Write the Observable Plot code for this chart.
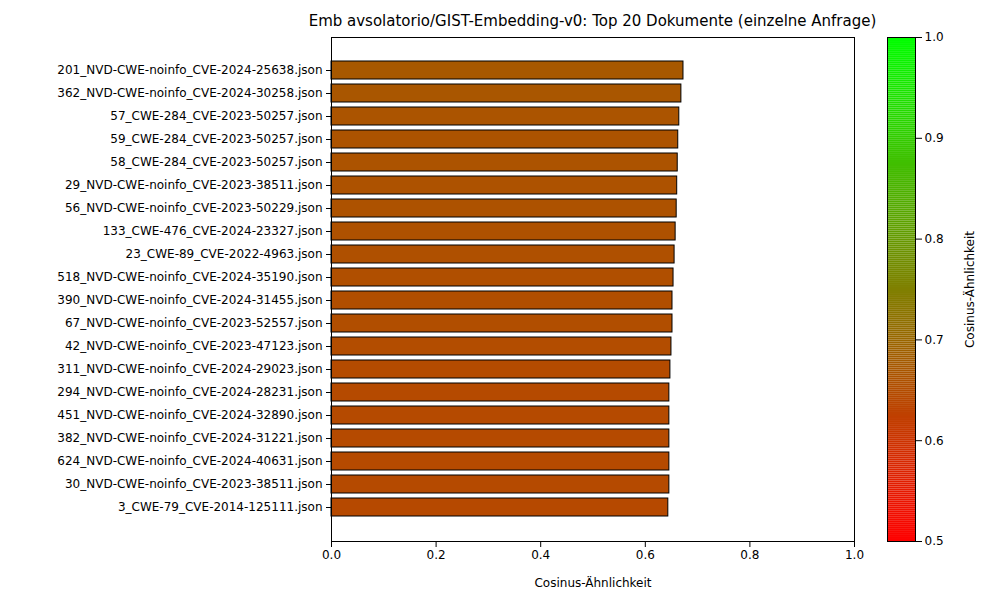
<!DOCTYPE html>
<html><head><meta charset="utf-8">
<script src="https://cdn.jsdelivr.net/npm/d3@7"></script>
<script src="https://cdn.jsdelivr.net/npm/@observablehq/plot@0.6"></script>
<style>
body{margin:0;background:#fff;font-family:"DejaVu Sans",sans-serif}
#wrap{position:relative;width:1000px;height:600px}
#title{position:absolute;top:12px;left:0;width:1185px;text-align:center;font-size:15px}
#bar{position:absolute;left:0;top:0}
#cbar{position:absolute;left:800px;top:0}
</style></head><body>
<div id="wrap"><div id="bar"></div><div id="cbar"></div>
<div id="title">Emb avsolatorio/GIST-Embedding-v0: Top 20 Dokumente (einzelne Anfrage)</div></div>
<script>
const docs = ["201_NVD-CWE-noinfo_CVE-2024-25638.json","362_NVD-CWE-noinfo_CVE-2024-30258.json","57_CWE-284_CVE-2023-50257.json","59_CWE-284_CVE-2023-50257.json","58_CWE-284_CVE-2023-50257.json","29_NVD-CWE-noinfo_CVE-2023-38511.json","56_NVD-CWE-noinfo_CVE-2023-50229.json","133_CWE-476_CVE-2024-23327.json","23_CWE-89_CVE-2022-4963.json","518_NVD-CWE-noinfo_CVE-2024-35190.json","390_NVD-CWE-noinfo_CVE-2024-31455.json","67_NVD-CWE-noinfo_CVE-2023-52557.json","42_NVD-CWE-noinfo_CVE-2023-47123.json","311_NVD-CWE-noinfo_CVE-2024-29023.json","294_NVD-CWE-noinfo_CVE-2024-28231.json","451_NVD-CWE-noinfo_CVE-2024-32890.json","382_NVD-CWE-noinfo_CVE-2024-31221.json","624_NVD-CWE-noinfo_CVE-2024-40631.json","30_NVD-CWE-noinfo_CVE-2023-38511.json","3_CWE-79_CVE-2014-125111.json"];
const sims = [0.673,0.669,0.665,0.663,0.662,0.661,0.660,0.658,0.656,0.654,0.652,0.652,0.650,0.648,0.646,0.646,0.646,0.646,0.646,0.644];
const xTicks = [0,0.2,0.4,0.6,0.8,1.0];
const cTicks = [0.5,0.6,0.7,0.8,0.9,1.0];

const cmap = d3.interpolateRgb("#ff0000","#00ff00");
const col = v => cmap((v-0.5)/0.5);
const rows = docs.map((d,i)=>({doc:d, sim:sims[i]}));

const main = Plot.plot({
  width:1000, height:600,
  marginLeft:331, marginRight:146, marginTop:37, marginBottom:59,
  style:{fontFamily:"DejaVu Sans", fontSize:"12px", color:"#000"},
  x:{domain:[0,1], ticks:xTicks, tickFormat:d3.format(".1f"), label:"Cosinus-Ähnlichkeit", labelAnchor:"center", labelArrow:"none", labelOffset:45},
  y:{domain:docs, paddingInner:0.2, paddingOuter:0.9, label:null, tickSize:5},
  marks:[
    Plot.barX(rows,{y:"doc", x:"sim", fill:d=>col(d.sim), stroke:"black", strokeWidth:1}),
    Plot.frame({stroke:"black"})
  ]
});
document.getElementById("bar").append(main);

const steps = d3.range(0.5,1.0,0.002).map(v=>({a:v,b:v+0.002}));
const cb = Plot.plot({
  width:200, height:600,
  marginLeft:87, marginRight:85, marginTop:37, marginBottom:59,
  style:{fontFamily:"DejaVu Sans", fontSize:"12px", color:"#000"},
  x:{axis:null, domain:[0,1]},
  y:{domain:[0.5,1], ticks:cTicks, tickFormat:d3.format(".1f"), label:"Cosinus-Ähnlichkeit", labelAnchor:"center", labelArrow:"none", labelOffset:58},
  marks:[
    Plot.rect(steps,{x1:0, x2:1, y1:"a", y2:"b", fill:d=>col(d.a+0.001)}),
    Plot.axisY({anchor:"right", ticks:cTicks, tickFormat:d3.format(".1f"), label:"Cosinus-Ähnlichkeit", labelAnchor:"center", labelArrow:"none", labelOffset:58}),
    Plot.frame({stroke:"black"})
  ]
});
document.getElementById("cbar").append(cb);
</script></body></html>
